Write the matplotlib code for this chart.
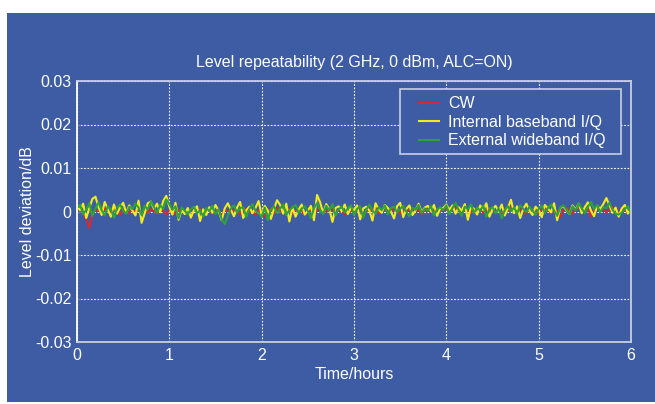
import numpy as np
import matplotlib.pyplot as plt
from matplotlib.patches import Rectangle

plt.rcParams['font.family'] = ['Liberation Sans', 'DejaVu Sans']

title = 'Level repeatability (2 GHz, 0 dBm, ALC=ON)'
xlabel = 'Time/hours'
ylabel = 'Level deviation/dB'
xticks = [0, 1, 2, 3, 4, 5, 6]
yticks = [0.03, 0.02, 0.01, 0, -0.01, -0.02, -0.03]
yticklabels = ['0.03', '0.02', '0.01', '0', '-0.01', '-0.02', '-0.03']
names = ['CW', 'Internal baseband I/Q', 'External wideband I/Q']

# readings in milli-dB, 30 samples per hour
cw_mdb = [0.9, 0.5, -0.3, -1.8, -3.8, -0.6, 0.4, 0.2, -0.5, 0.7, 0.3, -0.2, 0.6, 0.1, -0.8, 0.4, 0.2, -0.3, 0.5, 0.0, 0.3, -0.6, 0.4, -0.2, 0.6, 0.1, -0.4, 0.3, 0.2, -0.7,
          0.4, 0.1, -0.5, 0.3, 0.6, -0.2, 0.2, -1.3, 0.4, 0.0, 0.5, -0.3, 0.2, 0.6, -0.4, 0.1, 0.3, -0.9, 0.2, 0.4, -0.2, 0.5, 0.0, -0.6, 0.3, 0.7, -0.1, 0.2, -0.8, 0.4,
          0.1, -1.2, 0.3, 0.5, -0.4, 0.9, 0.2, -0.3, 1.0, 0.4, -0.5, 0.3, 0.6, 0.1, -0.7, 0.2, 0.5, -0.2, 0.3, 0.8, -0.4, 0.2, 0.0, 0.6, -0.3, 0.4, 0.1, -0.6, 0.5, 0.2,
          -0.3, 0.4, 0.7, -0.9, 0.2, 0.5, 0.0, 0.9, -0.4, 0.3, 0.6, 0.1, -0.2, 0.7, 0.3, -0.5, 0.4, 0.8, 0.1, -0.3, 0.5, 0.2, -0.6, 0.4, 0.9, 0.0, 0.3, -0.4, 0.6, 0.2,
          0.8, -0.2, 0.4, 0.9, 0.1, -0.5, 0.6, 0.3, -0.3, 0.7, 0.2, 1.1, -0.4, 0.5, 0.1, 0.8, -0.2, 0.4, -0.7, 0.6, 0.2, 1.0, 0.3, -0.3, 0.5, 0.1, -0.5, 0.7, 0.3, 0.0,
          -0.4, 0.5, 0.9, 0.2, -0.3, 0.6, 0.1, -1.3, 0.4, 0.8, 0.2, -0.5, 0.6, 1.0, 0.3, -0.2, 0.7, -1.2, 0.4, 0.9, 0.1, 0.6, -0.3, 0.5, 1.1, 0.2, -0.4, 0.6, 0.3, -0.2,
          0.5]
int_mdb = [1.2, 0.3, 1.8, -1.5, 0.8, 2.9, 3.4, 1.0, -0.8, 2.2, 0.5, -1.2, 1.6, -0.5, 0.9, 2.0, -0.3, 1.4, 0.2, -0.9, 2.5, -2.6, -0.4, 1.9, 2.3, 0.6, 1.8, -0.2, 2.4, 3.6,
           1.1, -0.7, 2.0, -1.9, 0.4, -0.6, 0.8, -1.4, 0.3, 1.2, -2.2, 0.5, -0.8, 1.0, -0.3, 1.5, 0.2, -2.0, 0.7, 1.9, 0.4, -1.1, 0.9, 2.2, -1.5, 0.3, 1.1, -0.4, 0.8, 2.4,
           -0.9, 1.3, 0.2, -1.7, 0.6, 2.6, 1.5, -0.5, 1.8, -2.3, 0.9, -1.2, 0.4, 1.6, -0.7, 0.2, 1.3, -2.0, 3.8, 2.1, -0.4, 1.7, 0.5, -2.4, 0.8, 1.2, 0.1, 1.6, -0.6, 0.9,
           0.3, 1.4, -1.8, 0.7, 1.1, 0.2, -2.1, 1.9, 0.5, -0.3, 1.5, 0.8, 0.0, -1.6, 1.2, 2.0, -1.3, 0.6, 1.4, -0.8, 0.3, 1.8, -0.2, 0.9, 1.3, 0.1, 1.5, -1.0, 0.7, 0.8,
           1.6, 0.4, 1.4, -0.5, 1.0, 0.2, 1.7, -1.9, 1.1, 0.6, -0.7, 1.4, 0.3, 1.9, -1.2, 0.5, 1.3, 0.0, 1.6, -0.9, 0.8, 2.7, -0.4, 1.2, -1.5, 0.6, 1.8, 0.2, -0.8, 1.1,
           0.4, -1.3, 1.5, 0.7, -0.2, 1.9, -2.0, 0.8, 1.2, 0.3, -0.6, 1.4, 0.5, 1.8, -0.4, 1.0, 2.1, 0.2, -1.1, 1.3, 0.6, 1.7, 3.1, 1.4, -0.3, 0.9, -1.2, 0.7, 1.5, -0.5,
           0.8]
ext_mdb = [0.8, 1.5, -0.6, 0.4, 1.9, -1.0, 0.7, 2.1, 0.3, -0.9, 1.2, 0.5, -1.4, 0.8, 1.6, 0.2, -0.5, 1.1, 0.6, 1.8, 0.9, -0.8, 1.3, 0.4, 2.3, 1.0, -0.3, 1.5, 0.6, 2.8,
           1.7, 0.4, 1.2, -1.6, 0.9, 0.2, -0.7, 0.6, 1.1, -0.4, 0.3, -1.2, 0.8, 0.1, 1.3, -0.6, 0.5, -1.8, -2.9, -1.0, 0.7, 1.4, -0.3, 0.8, 1.0, -1.3, 0.6, 1.7, 0.2, -0.5,
           -1.2, 0.9, -2.0, 0.5, 1.2, -0.4, 0.7, 1.6, -0.8, 0.3, 0.9, 1.5, -0.3, 0.6, 1.2, 0.1, -1.5, 0.8, 1.9, 0.4, -0.6, 1.3, 0.2, 1.7, -0.9, 0.5, 1.1, -0.2, 0.7, 1.4,
           -0.8, 0.6, 1.2, -1.4, 0.4, 1.6, 0.2, -0.5, 1.0, 0.3, 1.4, -0.7, 0.8, 1.1, -0.2, 0.6, 1.3, 0.0, -1.1, 0.9, 0.4, 1.5, -0.4, 0.7, 0.2, 1.2, -0.9, 0.5, 1.0, 0.3,
           1.4, -0.6, 0.8, 2.0, 0.3, -1.0, 1.1, 0.5, 1.6, -0.3, 0.9, 0.2, 1.3, -1.2, 0.6, 1.0, -0.4, 0.7, -1.6, 0.4, 1.2, 0.1, 0.9, -0.5, 1.4, 0.6, -0.2, 1.1, 0.3, -0.8,
           0.6, 1.3, -0.3, 0.8, 1.6, 0.2, -1.0, 0.9, 1.4, 0.5, -0.6, 1.2, 0.3, 1.8, 0.7, -0.4, 1.1, 2.2, 0.6, 1.5, -0.2, 1.0, 0.8, 2.0, 0.4, -0.5, -0.7, -0.3, 0.6, 1.2,
           -0.4]

cw = np.array(cw_mdb) / 1000
internal = np.array(int_mdb) / 1000
external = np.array(ext_mdb) / 1000
t = np.linspace(0, 6, len(cw))

blue = '#3d5ca4'
light = '#c9cfe2'

fig = plt.figure(figsize=(6.55, 4.04), dpi=100, facecolor='white')
bg = Rectangle((7/655, 2/404), 1, 389/404, transform=fig.transFigure,
               facecolor=blue, edgecolor='none', zorder=-10)
fig.add_artist(bg)
ax = fig.add_axes([77/655, 62/404, 554/655, 261/404])
ax.set_facecolor(blue)

ax.plot(t, cw, color='#d42a32', lw=1.5, label=names[0])
ax.plot(t, internal, color='#f2ec1c', lw=1.5, label=names[1])
ax.plot(t, external, color='#2fa33a', lw=1.5, label=names[2])

ax.set_xlim(0, 6)
ax.set_ylim(-0.03, 0.03)
ax.set_xticks(xticks)
ax.set_yticks(yticks)
ax.set_yticklabels(yticklabels)
ax.grid(True, color='white', ls=(0, (1.5, 1.5)), lw=0.8)
ax.tick_params(direction='in', length=2, color='#7080a0', labelcolor='white', labelsize=11.5, pad=4)
for s in ax.spines.values():
    s.set_color(light)
    s.set_linewidth(1.3)
ax.spines['left'].set_color('white')

ax.set_xlabel(xlabel, color='white', fontsize=11.5, labelpad=3)
ax.set_ylabel(ylabel, color='white', fontsize=11.5, labelpad=0)
fig.text((77 + 631) / 2 / 655, 1 - 62/404, title, color='white', fontsize=11.5, ha='center', va='center')

# legend box drawn separately so its padding matches the original
ax.add_patch(Rectangle((0.583, 0.720), 0.399, 0.249, transform=ax.transAxes,
                       facecolor=blue, edgecolor=light, lw=1.2, zorder=4))
leg = ax.legend(loc='upper left', bbox_to_anchor=(0.6173, 0.942), fontsize=11.5, frameon=False,
                labelspacing=0.23, handlelength=1.25, handletextpad=0.56, borderpad=0,
                borderaxespad=0)
leg.set_zorder(5)
for txt in leg.get_texts():
    txt.set_color('white')

fig.savefig('out.png', dpi=100, facecolor=fig.get_facecolor())
